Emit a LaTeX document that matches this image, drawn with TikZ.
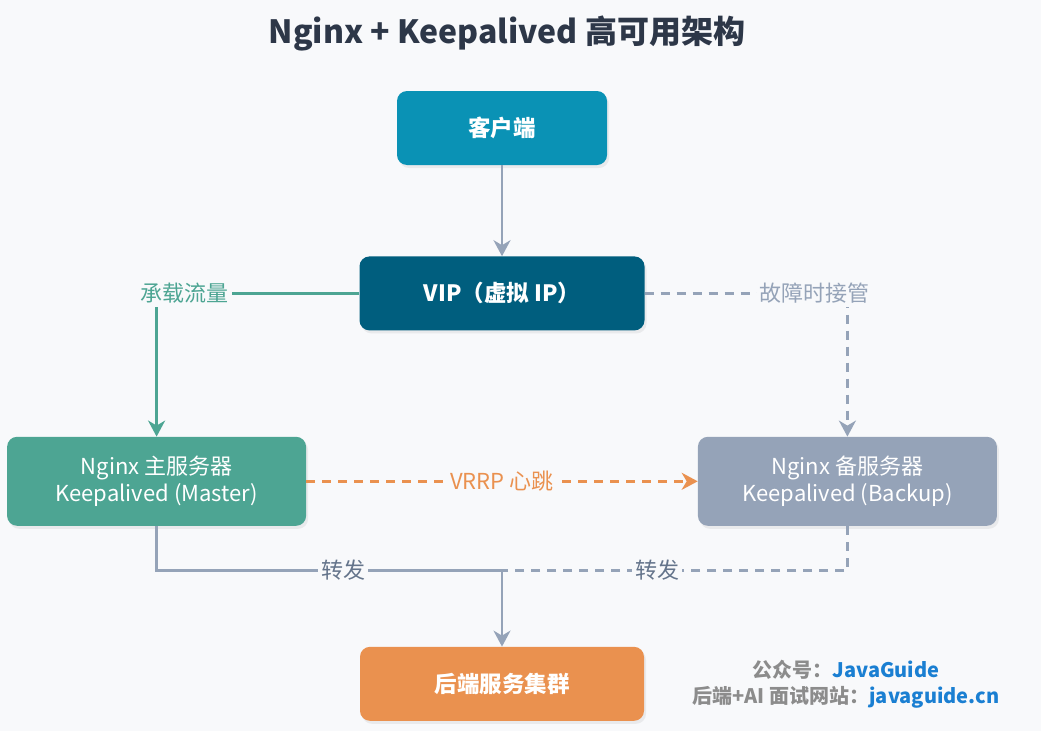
\documentclass[tikz,border=0pt]{standalone}
\usepackage{fontspec}
\setmainfont{Noto Sans CJK SC}
\usetikzlibrary{positioning,arrows.meta,shadows}
\definecolor{bgc}{HTML}{F8F9FB}
\definecolor{clientc}{HTML}{0A92B5}
\definecolor{vipc}{HTML}{005E7E}
\definecolor{masterc}{HTML}{4DA593}
\definecolor{backupc}{HTML}{95A3B8}
\definecolor{backendc}{HTML}{EA914F}
\definecolor{titlec}{HTML}{2D3748}
\definecolor{fwdtext}{HTML}{64748B}
\definecolor{wmgray}{HTML}{8C8C8C}
\definecolor{wmblue}{HTML}{1A7FD2}

\begin{document}
\begin{tikzpicture}[x=1pt, y=1pt, node distance=91pt and 53pt,
  box/.style={rounded corners=10pt, align=center, text=white, inner sep=0pt,
    font=\fontsize{22}{27}\selectfont,
    drop shadow={opacity=0.12, shadow xshift=2pt, shadow yshift=-3pt}},
  mainbox/.style={box, minimum width=#1, minimum height=74pt, font=\fontsize{22.5}{27}\selectfont\bfseries},
  srvbox/.style={box, minimum width=299pt, minimum height=89pt},
  lbl/.style={fill=bgc, inner sep=3pt, font=\fontsize{22}{24}\selectfont},
  tr/.style={-{Stealth[length=16pt, width=17pt, inset=5pt]}, line width=2.6pt, draw=backupc},
  fail/.style={tr, dash pattern=on 9pt off 7pt},
  vrrp/.style={tr, draw=backendc, dash pattern=on 9pt off 7pt},
  carry/.style={tr, draw=masterc}]
\fill[bgc] (0,0) rectangle (1041,-731);
\useasboundingbox (0,0) rectangle (1041,-731);
\node[font=\fontsize{32}{36}\selectfont\bfseries, text=titlec] (title) at (507,-33) {Nginx + Keepalived 高可用架构};
\node[mainbox=210pt, fill=clientc] (client) at (502,-128) {客户端};
\node[mainbox=285pt, fill=vipc, below=of client] (vip) {VIP（虚拟 IP）};
\node[srvbox, fill=masterc, below left=106pt and 53pt of vip] (master) {Nginx 主服务器\\Keepalived (Master)};
\node[srvbox, fill=backupc, below right=106pt and 53pt of vip] (backup) {Nginx 备服务器\\Keepalived (Backup)};
\node[mainbox=284pt, fill=backendc, below=316pt of vip] (backend) {后端服务集群};
\coordinate (join) at ([yshift=76pt]backend.north);
\draw[tr] (client) -- (vip);
\draw[carry] (vip.west) -| node[lbl, pos=0.43, text=masterc]{承载流量} (master.north);
\draw[fail] (vip.east) -| node[lbl, pos=0.42, text=backupc]{故障时接管} (backup.north);
\draw[vrrp] (master) -- node[lbl, text=backendc]{VRRP 心跳} (backup);
\draw[tr] (master.south) |- node[lbl, pos=0.77, text=fwdtext]{转发} (join) -- (backend.north);
\draw[fail, -] (backup.south) |- node[lbl, pos=0.775, text=fwdtext]{转发} (join);
\node[align=center, font=\fontsize{20}{26}\selectfont\bfseries] (brand) at (846,-684)
  {{\color{wmgray}公众号：}{\color{wmblue}JavaGuide}\\{\color{wmgray}后端+AI 面试网站：}{\color{wmblue}javaguide.cn}};
\end{tikzpicture}
\end{document}
